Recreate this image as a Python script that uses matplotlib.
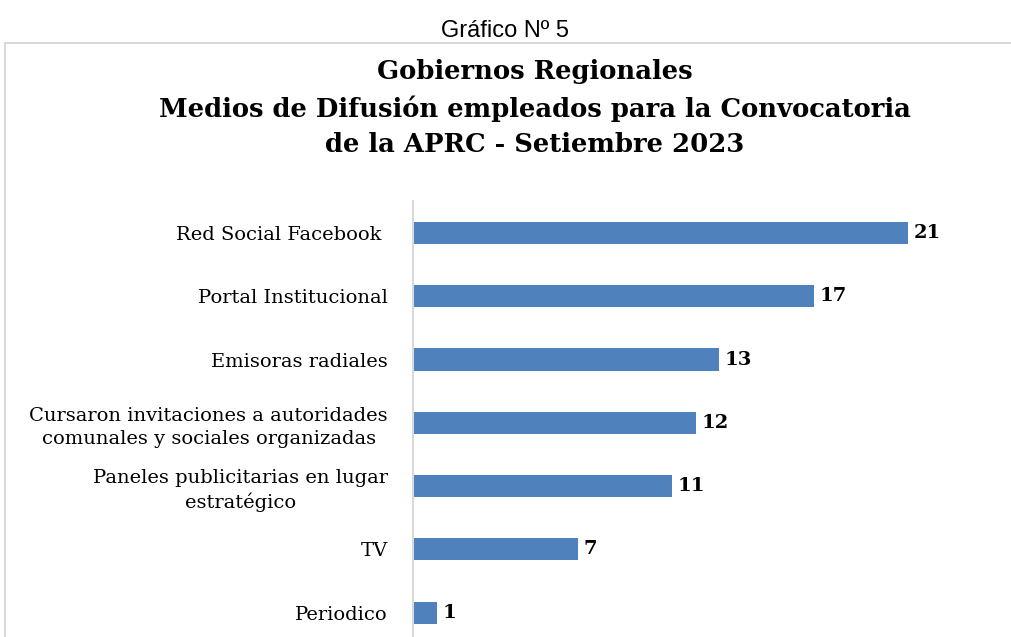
import matplotlib.pyplot as plt
from matplotlib.patches import Rectangle

categorias = ["Red Social Facebook ", "Portal Institucional", "Emisoras radiales",
              "Cursaron invitaciones a autoridades\ncomunales y sociales organizadas",
              "Paneles publicitarias en lugar\nestratégico", "TV", "Periodico"]
valores = [21, 17, 13, 12, 11, 7, 1]

W, H = 1011, 637
fig = plt.figure(figsize=(W / 100, H / 100), dpi=100)

# marco del gráfico (cortado a la derecha y abajo)
fig.patches.append(Rectangle((5 / W, -0.05), 1.1, 1 - 43 / H + 0.05,
                             transform=fig.transFigure, fill=False,
                             edgecolor="#D9D9D9", lw=1.5, clip_on=False))

fig.text(505 / W, 1 - 31 / H, "Gráfico Nº 5", ha="center", va="center",
         fontsize=17, family="Liberation Sans")

fig.text(535 / W, 1 - 108 / H,
         "Gobiernos Regionales\nMedios de Difusión empleados para la Convocatoria\nde la APRC - Setiembre 2023",
         ha="center", va="center", fontsize=18.6, fontweight="bold",
         family="DejaVu Serif", linespacing=1.5)

px_unit = (908 - 413) / 21
ax_left, ax_top, ax_bot = 413, 201.4, 644.2
ax = fig.add_axes([ax_left / W, 1 - ax_bot / H, 25 * px_unit / W, (ax_bot - ax_top) / H])

y = list(range(len(categorias)))
ax.barh(y, valores, height=0.35, color="#4F81BD")
ax.set_ylim(len(categorias) - 0.5, -0.5)
ax.set_xlim(0, 25)
ax.set_yticks(y)
ax.set_yticklabels(categorias, family="DejaVu Serif", fontsize=14)
for t in ax.get_yticklabels():
    t.set_multialignment("center")
    t.set_linespacing(1.35)
ax.tick_params(axis="y", length=0, pad=18)
ax.set_xticks([])
for s in ["top", "right", "bottom"]:
    ax.spines[s].set_visible(False)
ax.spines["left"].set_color("#D9D9D9")
ax.spines["left"].set_linewidth(1.5)

for yi, v in zip(y, valores):
    ax.annotate(str(v), (v, yi), xytext=(4, 0), textcoords="offset points",
                va="center", ha="left", fontsize=14, fontweight="bold",
                family="DejaVu Serif")

fig.savefig("out.png", dpi=100)
